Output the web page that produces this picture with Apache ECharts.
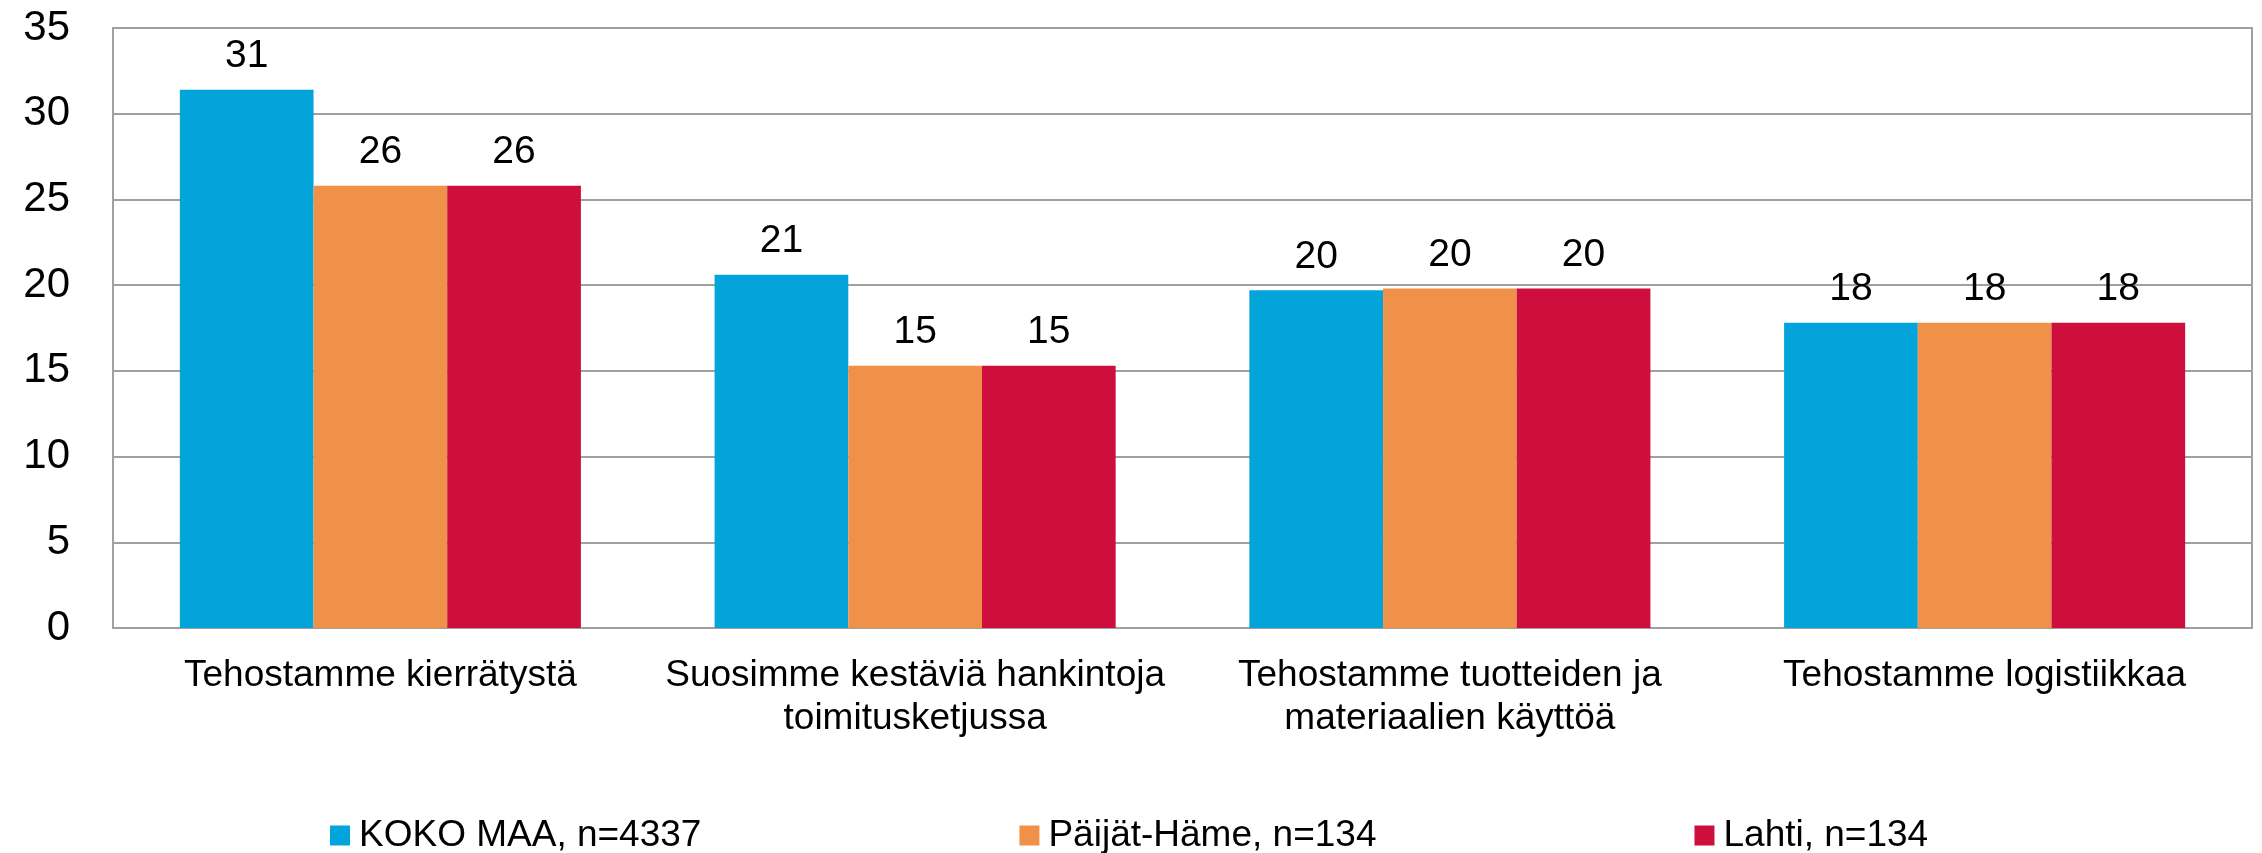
<!DOCTYPE html>
<html>
<head>
<meta charset="utf-8">
<script src="https://cdn.jsdelivr.net/npm/echarts@6/dist/echarts.min.js"></script>
<style>
  html, body { margin: 0; padding: 0; background: #fff; }
  #chart { width: 2262px; height: 853px; }
</style>
</head>
<body>
<div id="chart"></div>
<script>
// kategoriat ja sarjat
const categories = [
  'Tehostamme kierrätystä',
  'Suosimme kestäviä hankintoja\ntoimitusketjussa',
  'Tehostamme tuotteiden ja\nmateriaalien käyttöä',
  'Tehostamme logistiikkaa'
]
const seriesNames = ['KOKO MAA, n=4337', 'Päijät-Häme, n=134', 'Lahti, n=134']
const kokoMaa = [31.4, 20.6, 19.7, 17.8]
const paijatHame = [25.8, 15.3, 19.8, 17.8]
const lahti = [25.8, 15.3, 19.8, 17.8]
const colors = ['#02A4D9', '#F0914A', '#CE0F3E']

const font = 'Liberation Sans, Arial, sans-serif'

function bar(name, data, color) {
  return {
    name: name,
    type: 'bar',
    data: data,
    barGap: 0,
    barCategoryGap: '25%',
    itemStyle: { color: color },
    label: {
      show: true,
      position: 'top',
      distance: 14,
      fontFamily: font,
      fontSize: 39,
      color: '#000',
      formatter: p => Math.round(p.value)
    }
  }
}

const chart = echarts.init(document.getElementById('chart'), null, { renderer: 'canvas' })
chart.setOption({
  animation: false,
  color: colors,
  grid: {
    left: 113, right: 10, top: 28, bottom: 225,
    show: true, borderColor: '#a0a0a0', borderWidth: 2
  },
  legend: {
    left: 330,
    top: 817,
    padding: 0,
    itemGap: 318,
    itemWidth: 20,
    itemHeight: 20,
    icon: 'rect',
    textStyle: { fontFamily: font, fontSize: 37, color: '#000', padding: [0, 0, 0, 4] },
    data: seriesNames
  },
  xAxis: {
    type: 'category',
    data: categories,
    axisLine: { lineStyle: { color: '#a0a0a0', width: 2 } },
    axisTick: { show: false },
    axisLabel: {
      fontFamily: font, fontSize: 37, color: '#000',
      lineHeight: 43, margin: 26, interval: 0
    }
  },
  yAxis: {
    type: 'value',
    min: 0, max: 35, interval: 5,
    axisLine: { show: true, lineStyle: { color: '#a0a0a0', width: 2 } },
    axisTick: { show: false },
    splitLine: { lineStyle: { color: '#a0a0a0', width: 2 } },
    axisLabel: { fontFamily: font, fontSize: 42, color: '#000', margin: 43 }
  },
  series: [
    bar(seriesNames[0], kokoMaa, colors[0]),
    bar(seriesNames[1], paijatHame, colors[1]),
    bar(seriesNames[2], lahti, colors[2])
  ]
})
</script>
</body>
</html>
